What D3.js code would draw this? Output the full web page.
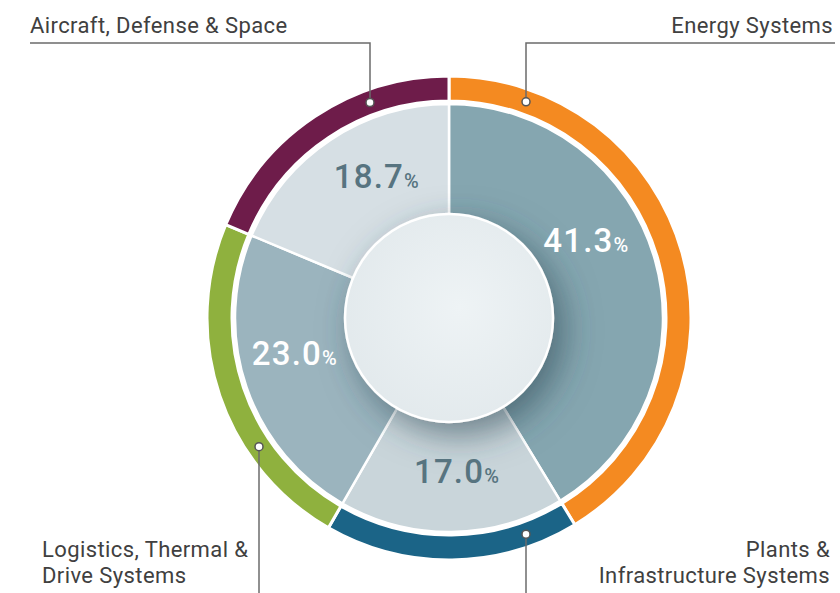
<!DOCTYPE html>
<html>
<head>
<meta charset="utf-8">
<script src="https://cdn.jsdelivr.net/npm/d3@7"></script>
<style>
  body { margin: 0; background: #fff; }
  svg { display: block; font-family: Roboto, "Noto Sans", sans-serif; }
</style>
</head>
<body>
<div id="chart"></div>
<script>
// segments, clockwise from 12 o'clock
var segments = ["Energy Systems", "Plants & Infrastructure Systems", "Logistics, Thermal & Drive Systems", "Aircraft, Defense & Space"];
var shares = [41.3, 17.0, 23.0, 18.7];
var labelLines = [["Energy Systems"], ["Plants &", "Infrastructure Systems"], ["Logistics, Thermal &", "Drive Systems"], ["Aircraft, Defense & Space"]];

var ringColors = ["#f48a21", "#1b6487", "#8fb13e", "#6e1c4a"];
var sliceColors = ["#85a6b0", "#c9d5da", "#9bb4be", "#d6dfe4"];
var valueColors = ["#ffffff", "#577480", "#ffffff", "#577480"];

// layout of the callouts: leader x, side of the text, etc.
var callouts = [
  { lx: 526, top: true, tx: 833, anchor: "end" },
  { lx: 526, top: false, tx: 830, anchor: "end" },
  { lx: 259, top: false, tx: 42, anchor: "start" },
  { lx: 370, top: true, tx: 30, anchor: "start" }
];
var valueAngle = [60.4, 177, 257.2, -27]; // degrees, where the % sits
var valueRadius = [158, 153, 158, 159];

var width = 840, height = 593;
var cx = 449, cy = 318;
var rOuter = 242, rRingIn = 217, rPie = 214, rHole = 104;

var svg = d3.select("#chart").append("svg")
  .attr("width", width)
  .attr("height", height);

var defs = svg.append("defs");
var shadow = defs.append("filter").attr("id", "shadow")
  .attr("x", "-50%").attr("y", "-50%").attr("width", "200%").attr("height", "200%");
shadow.append("feDropShadow")
  .attr("dx", 10).attr("dy", 12)
  .attr("stdDeviation", 17)
  .attr("flood-color", "#2d4a56")
  .attr("flood-opacity", 0.6);

var holeGrad = defs.append("radialGradient").attr("id", "holeGrad")
  .attr("cx", "55%").attr("cy", "45%").attr("r", "60%");
holeGrad.append("stop").attr("offset", "0%").attr("stop-color", "#eef3f5");
holeGrad.append("stop").attr("offset", "100%").attr("stop-color", "#e2e9ec");

var data = segments.map(function (s, i) {
  return { name: s, value: shares[i], i: i };
});

var pie = d3.pie().sort(null).value(function (d) { return d.value; });
var arcs = pie(data);

var g = svg.append("g").attr("transform", "translate(" + cx + "," + cy + ")");

// outer coloured ring
var ringArc = d3.arc().innerRadius(rRingIn).outerRadius(rOuter);
g.selectAll(".ring")
  .data(arcs)
  .enter()
  .append("path")
  .attr("class", "ring")
  .attr("d", ringArc)
  .attr("fill", function (d) { return ringColors[d.data.i]; })
  .attr("stroke", "#fff")
  .attr("stroke-width", 3);

// inner slices
var sliceArc = d3.arc().innerRadius(0).outerRadius(rPie);
g.selectAll(".slice")
  .data(arcs)
  .enter()
  .append("path")
  .attr("class", "slice")
  .attr("d", sliceArc)
  .attr("fill", function (d) { return sliceColors[d.data.i]; })
  .attr("stroke", "#fff")
  .attr("stroke-width", 2.5);

// centre disc with shadow
g.append("circle")
  .attr("r", rHole)
  .attr("fill", "url(#holeGrad)")
  .attr("stroke", "#fff")
  .attr("stroke-width", 2.5)
  .attr("filter", "url(#shadow)");

// percentages
arcs.forEach(function (d) {
  var i = d.data.i;
  var a = valueAngle[i] * Math.PI / 180;
  var x = Math.sin(a) * valueRadius[i];
  var y = -Math.cos(a) * valueRadius[i];
  var t = g.append("text")
    .attr("x", x)
    .attr("y", y + 12)
    .attr("text-anchor", "middle")
    .attr("fill", valueColors[i])
    .style("font-weight", 500)
    .style("letter-spacing", "1.2px");
  t.append("tspan").style("font-size", "33px").text(d.data.value.toFixed(1));
  t.append("tspan").style("font-size", "20px").text("%");
});

// callouts
var rMid = (rOuter + rRingIn) / 2;
callouts.forEach(function (c, i) {
  var dx = c.lx - cx;
  var dotY = cy + (c.top ? -1 : 1) * Math.sqrt(rMid * rMid - dx * dx);
  var lineCol = "#6b6b6b";
  if (c.top) {
    var x0 = Math.min(c.lx, c.tx), x1 = Math.max(c.lx, c.tx) + 2;
    var endX = c.anchor === "end" ? x1 : x0;
    svg.append("path")
      .attr("d", "M" + endX + ",43H" + c.lx + "V" + dotY)
      .attr("fill", "none")
      .attr("stroke", lineCol)
      .attr("stroke-width", 1.5);
    svg.append("text")
      .attr("x", c.tx)
      .attr("y", 33)
      .attr("text-anchor", c.anchor)
      .attr("fill", "#404040")
      .style("font-size", "22px")
      .style("letter-spacing", "0.4px")
      .text(labelLines[i][0]);
  } else {
    svg.append("line")
      .attr("x1", c.lx).attr("x2", c.lx)
      .attr("y1", dotY).attr("y2", height)
      .attr("stroke", lineCol)
      .attr("stroke-width", 1.5);
    labelLines[i].forEach(function (l, k) {
      svg.append("text")
        .attr("x", c.tx)
        .attr("y", 557 + k * 26)
        .attr("text-anchor", c.anchor)
        .attr("fill", "#404040")
        .style("font-size", "22px")
        .style("letter-spacing", "0.4px")
        .text(l);
    });
  }
  svg.append("circle")
    .attr("cx", c.lx)
    .attr("cy", dotY)
    .attr("r", 4)
    .attr("fill", "#fff")
    .attr("stroke", "#555")
    .attr("stroke-width", 1.5);
});
</script>
</body>
</html>
